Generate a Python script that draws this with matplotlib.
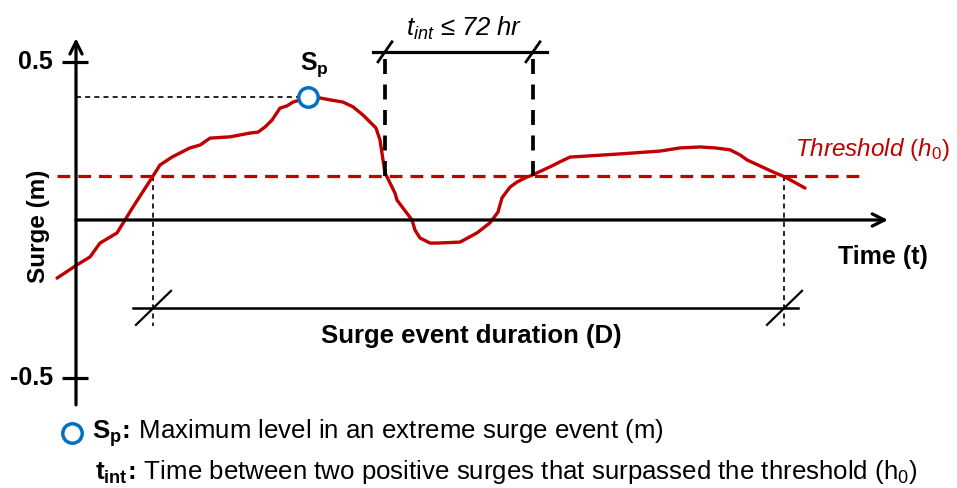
import matplotlib
matplotlib.use("Agg")
import matplotlib.pyplot as plt

plt.rcParams['font.family'] = ['Liberation Sans', 'DejaVu Sans']
plt.rcParams['mathtext.fontset'] = 'custom'
plt.rcParams['mathtext.rm'] = 'Liberation Sans'
plt.rcParams['mathtext.it'] = 'Liberation Sans:italic'
plt.rcParams['mathtext.bf'] = 'Liberation Sans:bold'

# surge record (time units, metres)
time = [-1.9, 0.1, 1.4, 2.4, 4.1, 4.9, 5.7, 7.7, 8.4, 9.6, 10.4, 11.4, 12.4,
        13.4, 15.4, 17.4, 18.2, 18.9, 19.6, 20.4, 21.1, 21.7, 22.4, 23.2, 23.9,
        25.4, 26.7, 27.7, 28.7, 29.4, 30.0, 30.4, 30.7, 30.9, 31.9, 32.1, 33.6,
        33.9, 34.4, 35.4, 36.1, 38.4, 40.1, 41.4, 42.2, 42.6, 43.4, 44.1, 45.1,
        45.4, 47.4, 48.4, 49.4, 54.4, 58.4, 60.4, 62.4, 63.9, 65.4, 66.4, 67.1,
        68.4, 69.7, 70.9, 72.9]
surge = [-0.184, -0.142, -0.117, -0.073, -0.041, 0.0, 0.041, 0.139, 0.174,
         0.199, 0.212, 0.228, 0.237, 0.259, 0.263, 0.275, 0.278, 0.294, 0.316,
         0.354, 0.361, 0.373, 0.380, 0.389, 0.389, 0.380, 0.373, 0.358, 0.332,
         0.310, 0.291, 0.253, 0.190, 0.149, 0.085, 0.063, 0.0, -0.032, -0.057,
         -0.073, -0.073, -0.070, -0.041, -0.009, 0.025, 0.070, 0.104, 0.120,
         0.136, 0.139, 0.168, 0.184, 0.199, 0.209, 0.218, 0.228, 0.231, 0.228,
         0.222, 0.206, 0.190, 0.171, 0.152, 0.136, 0.101]

threshold = 0.139
sp_time, sp_value = 23.2, 0.389
event_start, event_end = 7.7, 70.8
tint_start, tint_end = 30.9, 45.7
yticks = [0.5, -0.5]
ytick_labels = ['0.5', '-0.5']

RED = '#C00000'
BLUE = '#0070C0'

fig = plt.figure(figsize=(9.57, 4.88), dpi=100)
ax = fig.add_axes([0, 0, 1, 1])
ax.set_xlim(-7.6, 88.1)
ax.set_ylim(-0.848, 0.696)
ax.axis('off')

# sy: size of one pixel in surge units
sy = 1 / 316

# axes with arrows
ax.annotate('', xy=(0, 0.575), xytext=(0, -0.585),
            arrowprops=dict(arrowstyle='->', lw=2.3, color='black', mutation_scale=22,
                            shrinkA=0, shrinkB=0))
ax.annotate('', xy=(81.2, 0), xytext=(0, 0),
            arrowprops=dict(arrowstyle='->', lw=2.3, color='black', mutation_scale=22,
                            shrinkA=0, shrinkB=0))
for v, lab in zip(yticks, ytick_labels):
    ax.plot([-1.4, 1.2], [v, v], color='black', lw=2.3, solid_capstyle='butt')
    ax.text(-2.3, v, lab, ha='right', va='center', fontsize=18, fontweight='bold')

ax.text(-3.8, -6 * sy, 'Surge (m)', rotation=90, ha='center', va='center',
        fontsize=17.5, fontweight='bold')
ax.text(76.2, -37 * sy, 'Time (t)', ha='left', va='center', fontsize=18, fontweight='bold')

# threshold
ax.plot([-1.9, 78.6], [threshold, threshold], color=RED, lw=2.3, dashes=(4, 2.5))
ax.text(87.4, 0.222, r'$\mathit{Threshold\ (h_{0})}$', ha='right', va='center',
        fontsize=17.5, color=RED)

# guide lines
ax.plot([0, sp_time], [sp_value, sp_value], color='black', lw=1.2, dashes=(3, 2.5))
for t in (event_start, event_end):
    ax.plot([t, t], [threshold, -0.335], color='black', lw=1.2, dashes=(3, 2.5))

# surge curve
ax.plot(time, surge, color=RED, lw=2.4, solid_capstyle='round', solid_joinstyle='round')
ax.plot(sp_time, sp_value, 'o', ms=14, mfc='white', mec=BLUE, mew=2.5)
ax.text(sp_time + 0.6, sp_value + 18 * sy, r'$\mathbf{S}_{\mathbf{p}}$', ha='center',
        va='bottom', fontsize=18)

# inter-event time
tint_bar = 0.532
for t in (tint_start, tint_end):
    ax.plot([t, t], [threshold, tint_bar - 6 * sy], color='black', lw=2.7, dashes=(4, 2.8))
ax.plot([tint_start - 1.2, tint_end + 1.4], [tint_bar, tint_bar], color='black', lw=2.3)
for t in (tint_start, tint_end):
    ax.plot([t - 0.7, t + 0.7], [tint_bar - 10 * sy, tint_bar + 10 * sy], color='black', lw=2)
ax.text((tint_start + tint_end) / 2 + 0.5, tint_bar + 10 * sy,
        r'$\mathit{t_{int}}$' + ' ≤ 72 hr',
        ha='center', va='bottom', fontsize=18.5, fontstyle='italic')

# event duration
dur_bar = -0.278
ax.plot([event_start - 2.0, event_end + 1.4], [dur_bar, dur_bar], color='black', lw=1.8)
for t in (event_start, event_end):
    ax.plot([t - 1.7, t + 1.8], [dur_bar - 17 * sy, dur_bar + 17 * sy], color='black', lw=1.6)
ax.text(39.5, dur_bar - 28 * sy, 'Surge event duration (D)', ha='center', va='center',
        fontsize=18.5, fontweight='bold')

# notes
ax.plot(-0.4, (220 - 433) * sy, 'o', ms=14, mfc='white', mec=BLUE, mew=2.5)
ax.text(1.6, (220 - 433) * sy,
        r'$\mathbf{S}_{\mathbf{p}}\!\mathbf{:}\!$' + ' Maximum level in an extreme surge event (m)',
        ha='left', va='center', fontsize=18.6)
ax.text(1.9, (220 - 472) * sy,
        r'$\mathbf{t_{int}}\!\mathbf{:}\!$'
        + r' Time between two positive surges that surpassed the threshold (h$_{\mathregular{0}}$)',
        ha='left', va='center', fontsize=18.6)

fig.savefig('out.png', dpi=100)
